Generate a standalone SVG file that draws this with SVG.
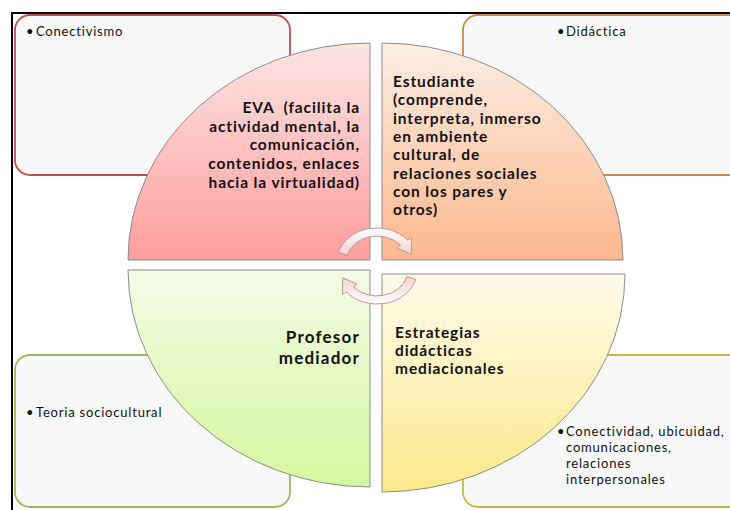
<svg xmlns="http://www.w3.org/2000/svg" width="730" height="510" viewBox="0 0 730 510">
<style>
.box{fill:#f8f8f8;stroke-width:1.8}
.q{stroke:#8c8c8c;stroke-width:1}
.big{font-family:Lato,"Liberation Sans",sans-serif;font-weight:bold;font-size:15.5px;letter-spacing:0.9px;fill:#111}
.sm{font-family:Lato,"Liberation Sans",sans-serif;font-size:13px;letter-spacing:0.8px;fill:#111}
.arr{fill:url(#ga);stroke:#b89a9a;stroke-width:1}
</style>
<defs>
<linearGradient id="gp" x1="0" y1="0" x2="0" y2="1"><stop offset="0" stop-color="#fde4e4"/><stop offset="1" stop-color="#ff9d9d"/></linearGradient>
<linearGradient id="go" x1="0" y1="0" x2="0" y2="1"><stop offset="0" stop-color="#fdeee4"/><stop offset="1" stop-color="#fbb88e"/></linearGradient>
<linearGradient id="gg" x1="0" y1="0" x2="0" y2="1"><stop offset="0" stop-color="#f3fbe6"/><stop offset="1" stop-color="#d6f79e"/></linearGradient>
<linearGradient id="gy" x1="0" y1="0" x2="0" y2="1"><stop offset="0" stop-color="#fffbea"/><stop offset="1" stop-color="#fbe98c"/></linearGradient>
<linearGradient id="ga" x1="0" y1="0" x2="0" y2="1"><stop offset="0" stop-color="#ffffff"/><stop offset="1" stop-color="#f6d0d0"/></linearGradient>
</defs>
<rect width="730" height="510" fill="#fff"/>
<rect x="12" y="13" width="730" height="510" fill="none" stroke="#000" stroke-width="2"/>

<g id="box-conectivismo">
<rect class="box" x="15" y="15" width="275" height="160" rx="15" stroke="#c0504d"/>
<text class="sm" y="36"><tspan x="26">•</tspan><tspan x="36">Conectivismo</tspan></text>
</g>
<g id="box-didactica">
<rect class="box" x="463" y="15" width="285" height="160" rx="15" stroke="#c98a4c"/>
<text class="sm" y="36"><tspan x="557">•</tspan><tspan x="566">Didáctica</tspan></text>
</g>
<g id="box-teoria">
<rect class="box" x="15" y="355" width="275" height="152" rx="15" stroke="#9bbb59"/>
<text class="sm" y="417"><tspan x="26">•</tspan><tspan x="36">Teoria sociocultural</tspan></text>
</g>
<g id="box-conectividad">
<rect class="box" x="463" y="355" width="285" height="152" rx="15" stroke="#c9b544"/>
<text class="sm"><tspan x="557" y="436">•</tspan><tspan x="566" y="436">Conectividad, ubicuidad,</tspan><tspan x="566" y="452">comunicaciones,</tspan><tspan x="566" y="468">relaciones</tspan><tspan x="566" y="484">interpersonales</tspan></text>
</g>

<g id="q-eva">
<path class="q" d="M370,260 L128,260 A242,217 0 0 1 370,43 Z" fill="url(#gp)"/>
<text class="big" text-anchor="end" style="white-space:pre"><tspan x="360" y="113">EVA  (facilita la</tspan><tspan x="360" y="131.7">actividad mental, la</tspan><tspan x="360" y="150.4">comunicación,</tspan><tspan x="360" y="169">contenidos, enlaces</tspan><tspan x="360" y="187.7">hacia la virtualidad)</tspan></text>
</g>
<g id="q-estudiante">
<path class="q" d="M382,260 L382,43 A241,217 0 0 1 623,260 Z" fill="url(#go)"/>
<text class="big"><tspan x="393" y="87">Estudiante</tspan><tspan x="393" y="105.3">(comprende,</tspan><tspan x="393" y="123.6">interpreta, inmerso</tspan><tspan x="393" y="141.9">en ambiente</tspan><tspan x="393" y="160.2">cultural, de</tspan><tspan x="393" y="178.5">relaciones sociales</tspan><tspan x="393" y="196.8">con los pares y</tspan><tspan x="393" y="215.1">otros)</tspan></text>
</g>
<g id="q-profesor">
<path class="q" d="M370,270 L370,487 A242,217 0 0 1 128,270 Z" fill="url(#gg)"/>
<text class="big" style="font-size:17px;letter-spacing:1.2px" text-anchor="end"><tspan x="360" y="343">Profesor</tspan><tspan x="360" y="364">mediador</tspan></text>
</g>
<g id="q-estrategias">
<path class="q" d="M382,274 L625,274 A243,218 0 0 1 382,492 Z" fill="url(#gy)"/>
<text class="big"><tspan x="395" y="338">Estrategias</tspan><tspan x="395" y="356">didácticas</tspan><tspan x="395" y="374">mediacionales</tspan></text>
</g>

<g id="connectors">
<path class="arr" d="M338.4,252.6 A40,34 0 0 1 407.6,240.1 L411.5,237.6 L411.3,254.2 L396.9,247.9 L400.7,245.3 A31,26 0 0 0 347.1,255.3 Z"/>
<path class="arr" transform="rotate(180 377 266)" d="M338.4,252.6 A40,34 0 0 1 407.6,240.1 L411.5,237.6 L411.3,254.2 L396.9,247.9 L400.7,245.3 A31,26 0 0 0 347.1,255.3 Z"/>
</g>
</svg>
